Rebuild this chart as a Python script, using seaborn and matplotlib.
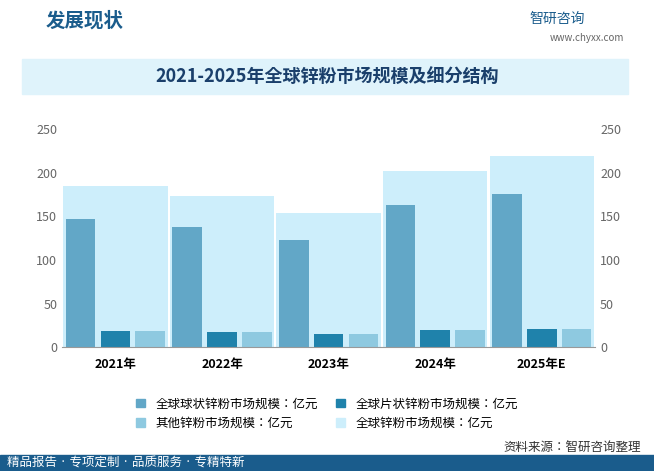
import matplotlib.pyplot as plt
import pandas as pd
import seaborn as sns
from matplotlib import font_manager
from matplotlib.patches import Patch

# register any CJK font files so the family name resolves
for f in font_manager.findSystemFonts():
    if "CJK" in f or "cjk" in f.lower():
        try:
            font_manager.fontManager.addfont(f)
        except Exception:
            pass
cjk = [f.name for f in font_manager.fontManager.ttflist if "CJK" in f.name]
plt.rcParams["font.family"] = "sans-serif"
plt.rcParams["font.sans-serif"] = (["Noto Sans CJK SC"] if "Noto Sans CJK SC" in cjk
                                   else sorted(set(cjk))[:1]) + ["DejaVu Sans"]

years = ["2021年", "2022年", "2023年", "2024年", "2025年E"]
total = [185, 173, 154, 202, 219]
spherical = [147, 138, 123, 163, 175]
flake = [18, 17, 15, 20, 21]
other = [18, 17, 15, 20, 21]
names = ["全球球状锌粉市场规模：亿元", "全球片状锌粉市场规模：亿元",
         "其他锌粉市场规模：亿元", "全球锌粉市场规模：亿元"]
colors = ["#62a7c7", "#1f82ab", "#8ec9e0", "#cdeefb"]

rows = []
for i, y in enumerate(years):
    for n, v in zip(names[:3], (spherical[i], flake[i], other[i])):
        rows.append({"year": y, "series": n, "value": v})
df = pd.DataFrame(rows)
tot = pd.DataFrame({"year": years, "value": total})

fig = plt.figure(figsize=(6.54, 4.71), dpi=100)
ax = fig.add_axes([0.095, 0.263, 0.815, 0.463])
sns.barplot(data=tot, x="year", y="value", color=colors[3], width=0.98,
            saturation=1, ax=ax, zorder=1)
sns.barplot(data=df, x="year", y="value", hue="series", palette=colors[:3],
            width=0.98, gap=0.15, saturation=1, ax=ax, legend=False, zorder=2)
ax.set_ylim(0, 250)
ax.set_xlim(-0.5, 4.5)
ax.set_yticks(range(0, 251, 50))
ax.set_xlabel("")
ax.set_ylabel("")
for s in ["top", "right", "left"]:
    ax.spines[s].set_visible(False)
ax.spines["bottom"].set_color("#999999")
ax.tick_params(axis="y", length=0, labelsize=9, colors="#666666")
ax.tick_params(axis="x", length=0, labelsize=9, pad=8)
for t in ax.get_xticklabels():
    t.set_fontweight("bold")
ax2 = ax.twinx()
ax2.set_ylim(0, 250)
ax2.set_yticks(range(0, 251, 50))
ax2.tick_params(axis="y", length=0, labelsize=9, colors="#666666")
for s in ax2.spines.values():
    s.set_visible(False)

order = [0, 2, 1, 3]
handles = [Patch(color=colors[i]) for i in order]
fig.legend(handles, [names[i] for i in order], loc="upper center",
           bbox_to_anchor=(0.5, 0.18), ncol=2, frameon=False, fontsize=9,
           handlelength=0.7, handleheight=0.7, columnspacing=1.5)

# header and title banner
fig.patches.append(plt.Rectangle((0.034, 0.8), 0.927, 0.075, color="#dff3fb",
                                 transform=fig.transFigure, zorder=0))
fig.text(0.5, 0.838, "2021-2025年全球锌粉市场规模及细分结构", ha="center",
         va="center", fontsize=13, fontweight="bold", color="#1a3f6b")
fig.text(0.07, 0.955, "发展现状", fontsize=14, fontweight="bold",
         color="#1a5c8c", va="center")
fig.text(0.81, 0.96, "智研咨询", fontsize=10, color="#1a5c8c", va="center")
fig.text(0.84, 0.92, "www.chyxx.com", fontsize=7, color="#666666", va="center")
fig.text(0.77, 0.05, "资料来源：智研咨询整理", fontsize=9, color="#333333",
         va="center")
fig.patches.append(plt.Rectangle((0, 0), 1, 0.035, color="#1a5c8c",
                                 transform=fig.transFigure, zorder=0))
fig.text(0.01, 0.017, "精品报告 · 专项定制 · 品质服务 · 专精特新", fontsize=9,
         color="white", va="center")
fig.savefig("out.png", dpi=100)
